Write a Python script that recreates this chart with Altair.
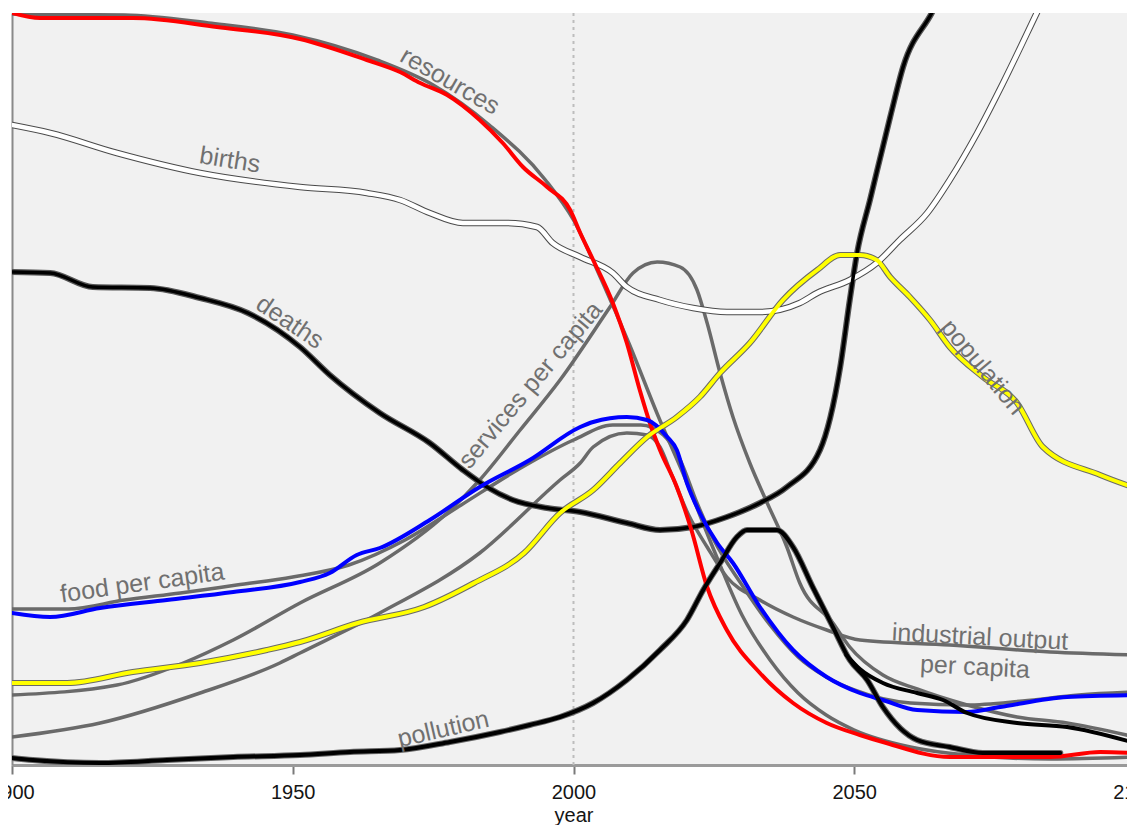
import altair as alt
import pandas as pd

# ---------------- data ----------------
resources_year = [1900, 1905, 1921.5, 1936.5, 1951.3, 1963.2, 1969.1, 1972.7, 1977.5, 1983.3, 1987.4, 1991,
                  1995.3, 1999.4, 2001.2, 2003.5, 2007, 2009.5, 2011.8, 2013.6, 2015.4, 2018.4, 2021, 2023.8,
                  2027.3, 2033.2, 2039.1, 2045.1, 2051, 2055.1, 2067, 2084.9, 2093.8, 2100]
resources_val = [752, 747, 747, 738, 726, 705, 693, 682, 670, 645, 622, 598,
                 578, 555, 532, 505, 462, 422, 375, 342, 315, 278, 235, 178,
                 135, 92, 62, 42, 30, 23, 8, 8, 13, 12]

resources_gray_year = [1900, 1920, 1935, 1950, 1965, 1975, 1985, 1995, 2000, 2005, 2010, 2015, 2020, 2025,
                       2030, 2035, 2040, 2045, 2050, 2060, 2070, 2085, 2100]
resources_gray_val = [751, 750, 742, 730, 705, 680, 640, 585, 545, 485, 420, 350, 285, 215,
                      150, 105, 72, 50, 35, 18, 10, 6, 8]

births_year = [1900, 1906.8, 1918.7, 1933.5, 1951.3, 1963.2, 1969.1, 1974.4, 1980.3, 1988.2, 1993.5, 1996.3,
               2001.2, 2007, 2009.5, 2015.4, 2021.3, 2027.3, 2033.2, 2040.3, 2043.4, 2049.2, 2054, 2058.1,
               2063, 2067, 2071.9, 2076.5, 2082.5, 2090]
births_val = [640, 632, 612, 592, 578, 572, 565, 552, 542, 542, 538, 522,
              508, 492, 478, 465, 457, 453, 453, 462, 472, 485, 502, 525,
              552, 585, 632, 682, 752, 840]

deaths_year = [1900, 1906.8, 1914.4, 1924.6, 1933.5, 1942, 1951.3, 1956.6, 1965.5, 1974.4, 1980.3, 1984.6,
               1989.2, 1995.3, 2001.2, 2009.5, 2015.4, 2021.3, 2027.3, 2033.2, 2038, 2043.9, 2047.5, 2049.2,
               2050.5, 2052.8, 2056.4, 2058.7, 2063.8, 2070]
deaths_val = [493, 492, 478, 477, 467, 452, 418, 390, 352, 322, 295, 278,
              265, 257, 253, 242, 235, 238, 248, 262, 278, 315, 398, 465,
              512, 565, 648, 698, 752, 820]

food_year = [1900, 1906.8, 1915.7, 1927.6, 1939.4, 1951.3, 1956.6, 1961.4, 1965.5, 1974.4, 1983.3, 1992.2,
             2001.2, 2003.5, 2009.5, 2013.1, 2016.7, 2018.4, 2020.2, 2022.5, 2025.6, 2028.4, 2033.2, 2039.1,
             2045.1, 2051, 2055.1, 2061.2, 2070.1, 2076, 2087.9, 2100]
food_val = [152, 148, 157, 165, 173, 183, 192, 210, 217, 245, 278, 305,
            338, 343, 348, 345, 328, 315, 282, 252, 222, 202, 158, 115,
            88, 72, 65, 55, 53, 58, 68, 70]

food_gray_year = [1900, 1910, 1920, 1930, 1940, 1950, 1960, 1970, 1980, 1990, 2000, 2007, 2012, 2016, 2019,
                  2022, 2025, 2030, 2035, 2040, 2045, 2050, 2060, 2070, 2080, 2090, 2100]
food_gray_val = [156, 156, 165, 172, 180, 188, 200, 225, 260, 295, 325, 340, 340, 330, 305,
                 262, 225, 180, 140, 108, 88, 75, 62, 60, 64, 70, 73]

population_year = [1899, 1909.8, 1921.5, 1933.5, 1945.4, 1951.3, 1961.6, 1973.4, 1982.3, 1991.2, 1997.6,
                   2003.5, 2008.3, 2013.1, 2018.4, 2022.5, 2026.1, 2031.4, 2037.3, 2043.4, 2047.5, 2051, 2054,
                   2056.4, 2059.9, 2063.5, 2067, 2072.9, 2079, 2083.6, 2093.8, 2100]
population_val = [82, 82, 93, 102, 115, 123, 142, 158, 182, 212, 252,
                  275, 302, 328, 348, 368, 392, 422, 465, 495, 510, 510, 505,
                  488, 468, 445, 418, 388, 362, 318, 290, 277]

pollution_year = [1900, 1903.7, 1915.7, 1927.6, 1939.4, 1951.3, 1960.2, 1969.1, 1978, 1986.9, 1992.2, 1997.6,
                  2003.5, 2009.5, 2015.4, 2020.2, 2023.1, 2026.1, 2029.1, 2030.9, 2036.2, 2039.1, 2042.6,
                  2046.2, 2049.2, 2052.3, 2055.1, 2061.2, 2067, 2072.9, 2086.7]
pollution_val = [7, 5, 2, 5, 8, 10, 13, 15, 23, 33, 40, 48,
                 62, 85, 115, 145, 175, 202, 228, 235, 235, 218, 178,
                 138, 105, 85, 58, 25, 18, 12, 12]

pollution2_year = [2048.6, 2051, 2055.1, 2061.2, 2065.8, 2070.1, 2079, 2087.9, 2100]
pollution2_val = [110, 96, 82, 72, 65, 52, 42, 38, 22]

services_year = [1900, 1918.7, 1930.5, 1939.4, 1951.3, 1965.5, 1977.5, 1983.3, 1990.5, 1997.6, 2006.5, 2010.6,
                 2014.9, 2019, 2022, 2023.8, 2026.1, 2028.4, 2031.4, 2034.5, 2038, 2040.3, 2046.2, 2049.2,
                 2055.1, 2061.2, 2070.1, 2079, 2087.9, 2100]
services_val = [70, 80, 102, 125, 162, 202, 252, 285, 335, 385, 458, 492,
                503, 498, 475, 442, 392, 348, 302, 262, 218, 182, 142, 118,
                90, 76, 60, 48, 42, 28]

industrial_year = [1900, 1915.7, 1933.5, 1947.7, 1951.3, 1965.5, 1983.3, 1997.6, 2001.2, 2003.5, 2009.5,
                   2013.1, 2015.4, 2017.5, 2020.5, 2023.8, 2027.3, 2033.2, 2039.1, 2045.1, 2051, 2067, 2084.9, 2100]
industrial_val = [28, 42, 72, 102, 112, 152, 212, 285, 302, 318, 332,
                  330, 318, 290, 250, 218, 188, 165, 148, 135, 125, 120, 113, 110]

label_text = ["resources", "births", "deaths", "services per capita", "food per capita",
              "population", "industrial output", "per capita", "pollution"]
label_year = [1978, 1938.8, 1949.5, 1992.3, 1923.2, 2072.9, 2072.4, 2071.5, 1976.8]
label_val = [684, 605, 443, 380, 182, 398, 128, 98, 36]
label_angle = [30, 9, 34, 310, 352, 50, 3, 3, 347]

tick_years = [1900, 1950, 2000, 2050, 2100]
marker_year = [2000]

# ---------------- chart ----------------
FONT = "Liberation Sans"
PLOT_W = 1115
xscale = alt.Scale(domain=[1900, 2100], nice=False, zero=False, range=[0, 1123])
yscale = alt.Scale(domain=[0, 752], nice=False, zero=False)
xaxis = alt.Axis(values=tick_years, format="d", title="year", grid=False,
                 labelFontSize=20, labelFont=FONT, labelColor="#151515", labelPadding=8,
                 titleFontSize=20, titleFont=FONT, titleColor="#151515", titleFontWeight="normal",
                 titlePadding=3, domainColor="#9a9a9a", domainWidth=3,
                 tickColor="#7a7a7a", tickWidth=2, tickSize=9, labelFlush=False,
                 labelOverlap=False)
yaxis = alt.Axis(labels=False, ticks=False, grid=False, title=None,
                 domain=True, domainColor="#8a8a8a", domainWidth=2)


def line_layer(years, vals, color, width):
    d = pd.DataFrame({"year": years, "value": vals})
    return alt.Chart(d).mark_line(color=color, strokeWidth=width, interpolate="monotone",
                                  clip=True, strokeCap="round", strokeJoin="round").encode(
        x=alt.X("year:Q", scale=xscale, axis=xaxis),
        y=alt.Y("value:Q", scale=yscale, axis=yaxis),
    )


marker = alt.Chart(pd.DataFrame({"year": marker_year})).mark_rule(
    color="#bdbdbd", strokeWidth=2, strokeDash=[3, 4]).encode(
    x=alt.X("year:Q", scale=xscale, axis=xaxis))

GRAY = "#6a6a6a"
layers = [
    marker,
    line_layer(services_year, services_val, GRAY, 3.5),
    line_layer(industrial_year, industrial_val, GRAY, 3.5),
    line_layer(resources_gray_year, resources_gray_val, GRAY, 3.5),
    line_layer(food_gray_year, food_gray_val, GRAY, 3.5),
    line_layer(population_year, population_val, GRAY, 6),
    line_layer(births_year, births_val, "#4a4a4a", 6.5),
    line_layer(deaths_year, deaths_val, "#555555", 6),
    line_layer(pollution_year, pollution_val, "#666666", 6),
    line_layer(births_year, births_val, "#ffffff", 4.5),
    line_layer(deaths_year, deaths_val, "#000000", 3.5),
    line_layer(resources_year, resources_val, "#ff0000", 4),
    line_layer(food_year, food_val, "#0000ff", 4),
    line_layer(population_year, population_val, "#ffff00", 4),
    line_layer(pollution_year, pollution_val, "#000000", 4),
    line_layer(pollution2_year, pollution2_val, "#000000", 4),
]

labels = alt.Chart(pd.DataFrame({"label": label_text, "year": label_year,
                                 "value": label_val, "angle": label_angle})).mark_text(
    font=FONT, fontSize=25, color="#707070", baseline="middle", align="center").encode(
    x=alt.X("year:Q", scale=xscale, axis=xaxis),
    y=alt.Y("value:Q", scale=yscale, axis=yaxis),
    text="label:N",
    angle=alt.Angle("angle:Q", scale=None),
)

chart = alt.layer(*layers, labels).properties(
    width=PLOT_W, height=752,
    autosize=alt.AutoSizeParams(type="none"),
    padding={"left": 4, "top": 5, "right": 0, "bottom": 60},
    background="#ffffff",
).configure_view(fill="#f1f1f1", stroke=None)

chart.save("out.html", embed_options={"renderer": "svg", "actions": False})
